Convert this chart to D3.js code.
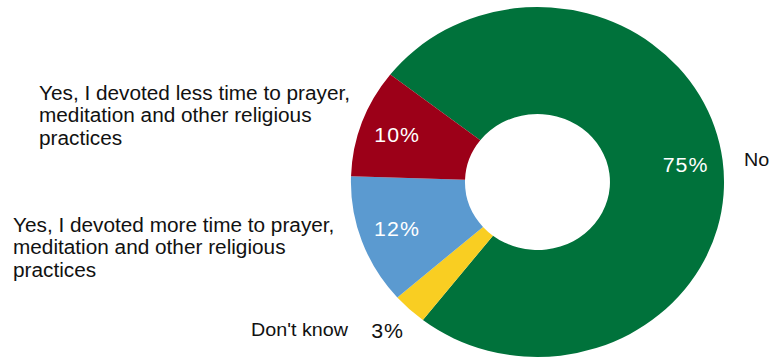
<!DOCTYPE html>
<html>
<head>
<meta charset="utf-8">
<script src="https://cdn.jsdelivr.net/npm/d3@7"></script>
<style>
  body { margin: 0; background: #fff; }
  svg text { font-family: "Liberation Sans", Arial, sans-serif; }
</style>
</head>
<body>
<div id="chart"></div>
<script>
// data
var categories = ["No", "Don't know", "Yes, I devoted more time to prayer, meditation and other religious practices", "Yes, I devoted less time to prayer, meditation and other religious practices"];
var values = [75, 3, 12, 10];
var valueLabels = ["75%", "3%", "12%", "10%"];
var colors = ["#00723B", "#F9CE22", "#5B9AD0", "#9C0018"];

var width = 769, height = 360;
var sx = 1.066;               // the original is stretched a little horizontally
var innerW = width / sx;

var svg = d3.select("#chart").append("svg")
    .attr("width", width)
    .attr("height", height)
    .attr("viewBox", "0 0 " + innerW + " " + height)
    .attr("preserveAspectRatio", "none");

var cx = 504.2, cy = 182;
var outerR = 175, innerR = 68;

var startDeg = 307.9;
var pie = d3.pie()
    .sort(null)
    .value(function(d) { return d; })
    .startAngle(startDeg * Math.PI / 180)
    .endAngle((startDeg + 360) * Math.PI / 180);

var arcs = pie(values);

var arc = d3.arc().innerRadius(innerR).outerRadius(outerR);
var labelArc = d3.arc().innerRadius(140).outerRadius(140);
var outsideArc = d3.arc().innerRadius(205).outerRadius(205);

var g = svg.append("g")
    .attr("transform", "translate(" + cx + "," + cy + ")");

g.selectAll("path.slice")
  .data(arcs)
  .enter().append("path")
    .attr("class", "slice")
    .attr("d", arc)
    .attr("fill", function(d, i) { return colors[i]; });

// percent labels (small slice goes outside)
g.selectAll("text.pct")
  .data(arcs)
  .enter().append("text")
    .attr("class", "pct")
    .attr("transform", function(d, i) {
      var c = (values[i] < 5 ? outsideArc : labelArc).centroid(d);
      return "translate(" + c[0] + "," + c[1] + ")";
    })
    .attr("dy", "0.36em")
    .attr("text-anchor", "middle")
    .style("font-size", "20px")
    .style("letter-spacing", "1px")
    .attr("fill", function(d, i) { return values[i] < 5 ? "#111" : "#fff"; })
    .text(function(d, i) { return valueLabels[i]; });

// category labels
var catPos = [
  {x: 698, y: 166, size: 18.5, lines: ["No"]},
  {x: 235.5, y: 336, size: 18.5, lines: ["Don't know"]},
  {x: 12.2, y: 232, size: 19.5, lines: ["Yes, I devoted more time to prayer,", "meditation and other religious", "practices"]},
  {x: 36.6, y: 100, size: 19.5, lines: ["Yes, I devoted less time to prayer,", "meditation and other religious", "practices"]}
];

catPos.forEach(function(p) {
  var t = svg.append("text")
    .attr("x", p.x)
    .attr("y", p.y)
    .attr("fill", "#111")
    .style("font-size", p.size + "px");
  p.lines.forEach(function(line, j) {
    t.append("tspan")
      .attr("x", p.x)
      .attr("dy", j == 0 ? 0 : 22.5)
      .text(line);
  });
});
</script>
</body>
</html>
